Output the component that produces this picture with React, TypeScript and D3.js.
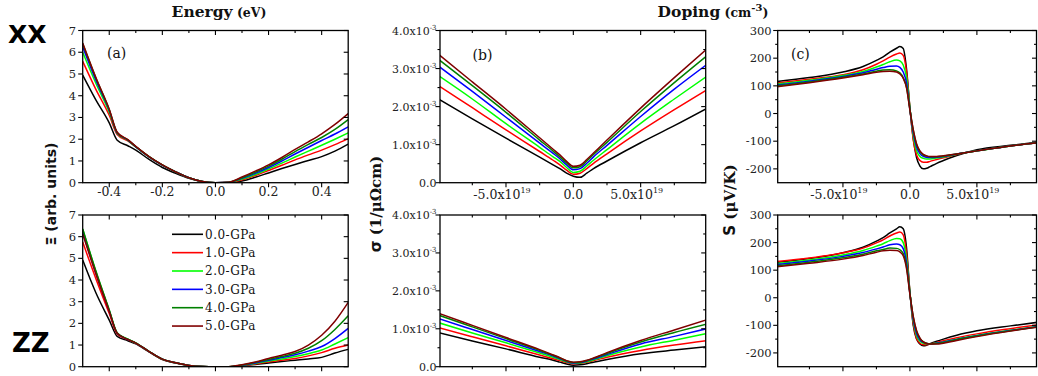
import React from "react";
import * as d3 from "d3";

// ---------- legend / series ----------
const PRESSURES = ["0.0-GPa", "1.0-GPa", "2.0-GPa", "3.0-GPa", "4.0-GPa", "5.0-GPa"];
const COLORS = ["#000000", "#ff0000", "#00ff00", "#0000ff", "#008000", "#800000"];

// ---------- panel (a): Xi vs Energy (eV) ----------
const ENERGY = [-0.5, -0.45, -0.4, -0.37, -0.33, -0.3, -0.25, -0.2, -0.15, -0.1, -0.05, 0, 0.05, 0.1, 0.15, 0.2, 0.25, 0.3, 0.35, 0.4, 0.45, 0.5];
const XI_XX = [
  [4.95, 3.8, 2.75, 1.95, 1.7, 1.5, 1.07, 0.7, 0.43, 0.2, 0.05, 0, 0, 0.08, 0.25, 0.45, 0.65, 0.84, 1.02, 1.2, 1.45, 1.77],
  [5.58, 4.28, 3.1, 2.22, 1.92, 1.65, 1.19, 0.81, 0.5, 0.23, 0.06, 0, 0.01, 0.13, 0.33, 0.56, 0.8, 1.05, 1.28, 1.5, 1.75, 2.03],
  [6.0, 4.56, 3.24, 2.27, 1.95, 1.65, 1.19, 0.81, 0.5, 0.23, 0.06, 0, 0.01, 0.17, 0.38, 0.63, 0.9, 1.18, 1.45, 1.72, 2.0, 2.29],
  [6.24, 4.7, 3.32, 2.28, 1.96, 1.65, 1.19, 0.81, 0.5, 0.23, 0.06, 0, 0.02, 0.2, 0.43, 0.7, 1.0, 1.32, 1.63, 1.94, 2.24, 2.57],
  [6.39, 4.8, 3.36, 2.3, 1.97, 1.66, 1.2, 0.82, 0.5, 0.23, 0.06, 0, 0.02, 0.23, 0.48, 0.76, 1.08, 1.43, 1.76, 2.08, 2.45, 2.9],
  [6.42, 4.82, 3.38, 2.32, 1.98, 1.67, 1.2, 0.82, 0.5, 0.23, 0.06, 0, 0.02, 0.26, 0.53, 0.82, 1.16, 1.53, 1.88, 2.25, 2.68, 3.18],
];
const XI_ZZ = [
  [4.92, 3.4, 2.15, 1.4, 1.2, 1.05, 0.68, 0.33, 0.17, 0.06, 0.01, 0, 0, 0.05, 0.1, 0.17, 0.24, 0.3, 0.36, 0.43, 0.63, 0.8],
  [5.75, 4.05, 2.45, 1.5, 1.25, 1.08, 0.7, 0.34, 0.18, 0.06, 0.01, 0, 0, 0.06, 0.13, 0.22, 0.3, 0.38, 0.5, 0.65, 0.85, 1.0],
  [6.35, 4.38, 2.6, 1.55, 1.27, 1.09, 0.7, 0.35, 0.18, 0.06, 0.01, 0, 0, 0.07, 0.15, 0.26, 0.36, 0.47, 0.6, 0.77, 1.05, 1.34],
  [6.2, 4.3, 2.57, 1.54, 1.26, 1.09, 0.7, 0.35, 0.18, 0.06, 0.01, 0, 0, 0.07, 0.17, 0.3, 0.42, 0.55, 0.72, 0.93, 1.3, 1.77],
  [6.35, 4.4, 2.62, 1.56, 1.27, 1.1, 0.71, 0.35, 0.18, 0.06, 0.01, 0, 0, 0.08, 0.2, 0.33, 0.47, 0.62, 0.85, 1.2, 1.72, 2.35],
  [6.12, 4.27, 2.55, 1.54, 1.26, 1.09, 0.7, 0.35, 0.18, 0.06, 0.01, 0, 0, 0.09, 0.22, 0.38, 0.53, 0.7, 1.0, 1.45, 2.1, 2.97],
];

// ---------- panel (b): sigma (x10^-3 1/uOhm cm) vs doping (x10^19 cm^-3) ----------
const SIGMA_DOPING = [-10, -7.5, -5, -2.5, -1.5, -1, -0.5, 0, 0.5, 1, 1.5, 2.5, 5, 7.5, 10];
const SIGMA_XX = [
  [2.2, 1.68, 1.17, 0.67, 0.47, 0.37, 0.25, 0.17, 0.14, 0.25, 0.37, 0.57, 1.05, 1.5, 1.97],
  [2.55, 1.97, 1.39, 0.82, 0.59, 0.47, 0.33, 0.22, 0.25, 0.37, 0.51, 0.76, 1.36, 1.92, 2.46],
  [2.81, 2.2, 1.55, 0.93, 0.68, 0.56, 0.4, 0.27, 0.3, 0.44, 0.59, 0.87, 1.56, 2.2, 2.82],
  [3.06, 2.4, 1.72, 1.04, 0.77, 0.63, 0.47, 0.34, 0.37, 0.51, 0.68, 0.98, 1.74, 2.46, 3.13],
  [3.24, 2.55, 1.85, 1.12, 0.83, 0.68, 0.52, 0.39, 0.42, 0.57, 0.74, 1.06, 1.87, 2.63, 3.36],
  [3.37, 2.65, 1.93, 1.18, 0.88, 0.73, 0.56, 0.43, 0.46, 0.61, 0.78, 1.12, 1.96, 2.76, 3.54],
];
const SIGMA_ZZ = [
  [0.9, 0.68, 0.47, 0.25, 0.17, 0.12, 0.07, 0.04, 0.05, 0.08, 0.12, 0.19, 0.34, 0.44, 0.53],
  [1.03, 0.79, 0.55, 0.31, 0.21, 0.16, 0.11, 0.08, 0.09, 0.12, 0.16, 0.25, 0.43, 0.57, 0.69],
  [1.16, 0.89, 0.63, 0.36, 0.25, 0.19, 0.13, 0.09, 0.1, 0.13, 0.18, 0.29, 0.52, 0.7, 0.88],
  [1.27, 0.98, 0.69, 0.4, 0.28, 0.21, 0.14, 0.1, 0.11, 0.15, 0.2, 0.32, 0.6, 0.8, 1.01],
  [1.36, 1.05, 0.74, 0.43, 0.3, 0.23, 0.15, 0.11, 0.12, 0.16, 0.22, 0.35, 0.65, 0.9, 1.13],
  [1.41, 1.09, 0.77, 0.45, 0.31, 0.24, 0.16, 0.12, 0.13, 0.17, 0.23, 0.37, 0.69, 0.97, 1.25],
];

// ---------- panel (c): Seebeck S (uV/K) vs doping (x10^19 cm^-3) ----------
const S_DOPING = [-10, -7.5, -5, -3.5, -2.5, -2, -1.5, -1, -0.75, -0.5, -0.25, 0, 0.25, 0.5, 0.75, 1, 1.25, 1.5, 2, 2.5, 3.5, 5, 7.5, 10];
const S_XX = [
  [115, 130, 150, 170, 192, 205, 222, 236, 242, 235, 160, 20, -90, -160, -190, -200, -198, -192, -180, -170, -152, -131, -115, -101],
  [110, 124, 140, 158, 178, 190, 204, 215, 219, 210, 150, 20, -95, -150, -170, -176, -176, -173, -166, -160, -148, -135, -117, -103],
  [106, 120, 137, 152, 168, 177, 187, 193, 190, 175, 130, 20, -80, -135, -155, -162, -164, -164, -161, -157, -147, -135, -117, -103],
  [103, 117, 134, 147, 160, 166, 171, 172, 167, 150, 110, 15, -70, -122, -145, -155, -158, -159, -158, -155, -146, -135, -117, -103],
  [100, 114, 131, 143, 153, 157, 158, 154, 147, 130, 95, 15, -60, -112, -138, -150, -154, -156, -156, -154, -146, -135, -117, -103],
  [96, 111, 128, 140, 149, 152, 153, 150, 143, 127, 92, 12, -58, -110, -135, -148, -153, -155, -155, -153, -146, -135, -117, -103],
];
const S_ZZ = [
  [128, 142, 163, 183, 205, 218, 235, 250, 257, 250, 180, 20, -100, -150, -168, -174, -172, -167, -158, -150, -136, -120, -102, -86],
  [131, 144, 163, 180, 199, 210, 224, 235, 238, 228, 160, 20, -95, -148, -165, -170, -170, -168, -162, -156, -145, -131, -112, -95],
  [124, 137, 155, 171, 187, 196, 207, 215, 214, 200, 140, 20, -85, -138, -158, -165, -167, -167, -164, -160, -150, -137, -118, -101],
  [120, 133, 150, 164, 177, 184, 192, 195, 192, 178, 125, 15, -78, -130, -153, -162, -166, -167, -165, -161, -151, -138, -119, -102],
  [116, 129, 145, 158, 170, 175, 180, 179, 174, 160, 112, 15, -70, -122, -148, -160, -165, -167, -166, -162, -152, -139, -120, -103],
  [112, 125, 140, 153, 165, 170, 172, 171, 166, 152, 105, 12, -68, -120, -146, -160, -166, -168, -168, -165, -155, -141, -121, -104],
];

// ---------- ticks ----------
const ENERGY_TICKS = [-0.4, -0.2, 0, 0.2, 0.4];
const ENERGY_MINOR = [-0.3, -0.1, 0.1, 0.3];
const XI_TICKS = [0, 1, 2, 3, 4, 5, 6, 7];
const DOPING_TICKS = [-5, 0, 5];
const DOPING_MINOR = [-7.5, -2.5, 2.5, 7.5];
const SIGMA_TICKS = [0, 1, 2, 3, 4];
const SIGMA_MINOR = [0.5, 1.5, 2.5, 3.5];
const S_TICKS = [-200, -100, 0, 100, 200, 300];
const S_MINOR = [-150, -50, 50, 150, 250];

const SERIF = "'DejaVu Serif', serif";
const SANS = "'DejaVu Sans', sans-serif";

type Lbl = { base: string; sup?: string };
const fmtEnergy = (v: number): Lbl => ({ base: v.toFixed(1) });
const fmtInt = (v: number): Lbl => ({ base: String(v) });
const fmtDoping = (v: number): Lbl => (v === 0 ? { base: "0.0" } : { base: v.toFixed(1) + "x10", sup: "19" });
const fmtSigma = (v: number): Lbl => (v === 0 ? { base: "0.0" } : { base: v.toFixed(1) + "x10", sup: "-3" });

type PanelProps = {
  id: string;
  left: number; right: number; top: number; bottom: number;
  xDomain: [number, number]; yDomain: [number, number];
  xTicks: number[]; xMinor: number[]; yTicks: number[]; yMinor: number[];
  xFmt: (v: number) => Lbl; yFmt: (v: number) => Lbl;
  showX: boolean; xLabelBaseline: number; yLabelGap: number; yFont: number;
  xs: number[]; series: number[][];
};

function Panel(p: PanelProps) {
  const x = d3.scaleLinear().domain(p.xDomain).range([p.left, p.right]);
  const y = d3.scaleLinear().domain(p.yDomain).range([p.bottom, p.top]);
  const gen = d3
    .line<number>()
    .x((_, i) => x(p.xs[i]))
    .y((d) => y(d))
    .curve(d3.curveMonotoneX);
  const MAJ = 4.5, MIN = 2.5;
  const ticks: JSX.Element[] = [];
  p.xTicks.forEach((v, i) => {
    const xx = x(v);
    ticks.push(<line key={`xb${i}`} x1={xx} x2={xx} y1={p.bottom} y2={p.bottom + MAJ} />);
    ticks.push(<line key={`xt${i}`} x1={xx} x2={xx} y1={p.top} y2={p.top + MAJ} />);
  });
  p.xMinor.forEach((v, i) => {
    const xx = x(v);
    ticks.push(<line key={`xbm${i}`} x1={xx} x2={xx} y1={p.bottom} y2={p.bottom + MIN} />);
    ticks.push(<line key={`xtm${i}`} x1={xx} x2={xx} y1={p.top} y2={p.top + MIN} />);
  });
  p.yTicks.forEach((v, i) => {
    const yy = y(v);
    ticks.push(<line key={`yl${i}`} x1={p.left - MAJ} x2={p.left} y1={yy} y2={yy} />);
    ticks.push(<line key={`yr${i}`} x1={p.right - MAJ} x2={p.right} y1={yy} y2={yy} />);
  });
  p.yMinor.forEach((v, i) => {
    const yy = y(v);
    ticks.push(<line key={`ylm${i}`} x1={p.left - MIN} x2={p.left} y1={yy} y2={yy} />);
    ticks.push(<line key={`yrm${i}`} x1={p.right - MIN} x2={p.right} y1={yy} y2={yy} />);
  });
  return (
    <g>
      <defs>
        <clipPath id={p.id}>
          <rect x={p.left} y={p.top} width={p.right - p.left} height={p.bottom - p.top} />
        </clipPath>
      </defs>
      <g clipPath={`url(#${p.id})`}>
        {p.series.map((s, i) => (
          <path key={i} d={gen(s) || ""} fill="none" stroke={COLORS[i]} strokeWidth={1.5} strokeLinejoin="round" />
        ))}
      </g>
      <rect x={p.left} y={p.top} width={p.right - p.left} height={p.bottom - p.top} fill="none" stroke="#000" strokeWidth={1.3} />
      <g stroke="#000" strokeWidth={1.1}>{ticks}</g>
      <g fontFamily={SERIF} fill="#222">
        {p.yTicks.map((v, i) => {
          const l = p.yFmt(v);
          return (
            <text key={i} x={p.left - p.yLabelGap} y={y(v) + 4} textAnchor="end" fontSize={p.yFont}>
              {l.base}
              {l.sup && (
                <tspan fontSize={7} dy={-5}>
                  {l.sup}
                </tspan>
              )}
            </text>
          );
        })}
        {p.showX &&
          p.xTicks.map((v, i) => {
            const l = p.xFmt(v);
            return (
              <text key={i} x={x(v) + (l.sup ? -4 : 0)} y={p.xLabelBaseline} textAnchor="middle" fontSize={12.5}>
                {l.base}
                {l.sup && (
                  <tspan fontSize={8} dy={-6}>
                    {l.sup}
                  </tspan>
                )}
              </text>
            );
          })}
      </g>
    </g>
  );
}

const ROWS = [
  { top: 30.5, bottom: 182.7 },
  { top: 215, bottom: 366.7 },
];
const COLS = {
  a: { left: 82.7, right: 348.2 },
  b: { left: 440, right: 705.7 },
  c: { left: 777.7, right: 1036.5 },
};

export default function App() {
  const panels: PanelProps[] = [];
  [XI_XX, XI_ZZ].forEach((series, r) =>
    panels.push({
      id: `clipA${r}`, ...COLS.a, ...ROWS[r],
      xDomain: [-0.5, 0.5], yDomain: [0, 7],
      xTicks: ENERGY_TICKS, xMinor: ENERGY_MINOR, yTicks: XI_TICKS, yMinor: [],
      xFmt: fmtEnergy, yFmt: fmtInt, showX: r === 0, xLabelBaseline: 195.5, yLabelGap: 6.5, yFont: 11.5,
      xs: ENERGY, series,
    })
  );
  [SIGMA_XX, SIGMA_ZZ].forEach((series, r) =>
    panels.push({
      id: `clipB${r}`, ...COLS.b, ...ROWS[r],
      xDomain: [-9.9, 9.83], yDomain: [0, 4],
      xTicks: DOPING_TICKS, xMinor: DOPING_MINOR, yTicks: SIGMA_TICKS, yMinor: SIGMA_MINOR,
      xFmt: fmtDoping, yFmt: fmtSigma, showX: r === 0, xLabelBaseline: 199, yLabelGap: 3.5, yFont: 11,
      xs: SIGMA_DOPING, series,
    })
  );
  [S_XX, S_ZZ].forEach((series, r) =>
    panels.push({
      id: `clipC${r}`, ...COLS.c, ...ROWS[r],
      xDomain: [-9.87, 9.45], yDomain: [-250, 300],
      xTicks: DOPING_TICKS, xMinor: DOPING_MINOR, yTicks: S_TICKS, yMinor: S_MINOR,
      xFmt: fmtDoping, yFmt: fmtInt, showX: r === 0, xLabelBaseline: 199, yLabelGap: 6, yFont: 11.5,
      xs: S_DOPING, series,
    })
  );

  return (
    <svg
      width={1038}
      height={376}
      viewBox="0 0 1038 376"
      style={{ position: "absolute", left: 0, top: 0, background: "#fff" }}
    >
      <rect x={0} y={0} width={1038} height={376} fill="#fff" />
      {panels.map((p) => (
        <Panel key={p.id} {...p} />
      ))}

      {/* titles */}
      <text x={219} y={16.5} textAnchor="middle" fontFamily={SERIF} fontWeight="bold" fill="#111">
        <tspan fontSize={15.5}>Energy</tspan>
        <tspan fontSize={12.5}> (eV)</tspan>
      </text>
      <text x={713} y={16.5} textAnchor="middle" fontFamily={SERIF} fontWeight="bold" fill="#111">
        <tspan fontSize={15.5}>Doping</tspan>
        <tspan fontSize={12.5}> (cm</tspan>
        <tspan fontSize={10} dy={-6}>-3</tspan>
        <tspan fontSize={12.5} dy={6}>)</tspan>
      </text>

      {/* direction labels */}
      <text x={8} y={43} fontFamily={SANS} fontWeight="bold" fontSize={25} fill="#000">XX</text>
      <text x={12} y={352} fontFamily={SANS} fontWeight="bold" fontSize={26} fill="#000">ZZ</text>

      {/* panel tags */}
      <text x={107} y={58} fontFamily={SERIF} fontSize={14} fill="#111">(a)</text>
      <text x={472.5} y={60} fontFamily={SERIF} fontSize={14} fill="#111">(b)</text>
      <text x={791} y={59} fontFamily={SERIF} fontSize={14} fill="#111">(c)</text>

      {/* y-axis titles */}
      <text transform="translate(51,194) rotate(-90)" textAnchor="middle" dominantBaseline="central" fontFamily={SANS} fontWeight="bold" fontSize={14} fill="#111">
        Ξ (arb. units)
      </text>
      <text transform="translate(376,204) rotate(-90)" textAnchor="middle" dominantBaseline="central" fontWeight="bold" fill="#111">
        <tspan fontFamily={SANS} fontSize={15}>σ</tspan>
        <tspan fontFamily={SERIF} fontSize={15}> (1/μΩcm)</tspan>
      </text>
      <text transform="translate(729.5,200) rotate(-90)" textAnchor="middle" dominantBaseline="central" fontWeight="bold" fill="#111">
        <tspan fontFamily={SANS} fontSize={15}>S</tspan>
        <tspan fontFamily={SERIF} fontSize={15}> (μV/K)</tspan>
      </text>

      {/* legend */}
      <g>
        {PRESSURES.map((name, i) => {
          const yy = 234.3 + i * 18.35;
          return (
            <g key={name}>
              <line x1={172} x2={203} y1={yy} y2={yy} stroke={COLORS[i]} strokeWidth={1.6} />
              <text x={205} y={yy + 4.3} fontFamily={SERIF} fontSize={12} letterSpacing={0.5} fill="#111">
                {name}
              </text>
            </g>
          );
        })}
      </g>
    </svg>
  );
}
